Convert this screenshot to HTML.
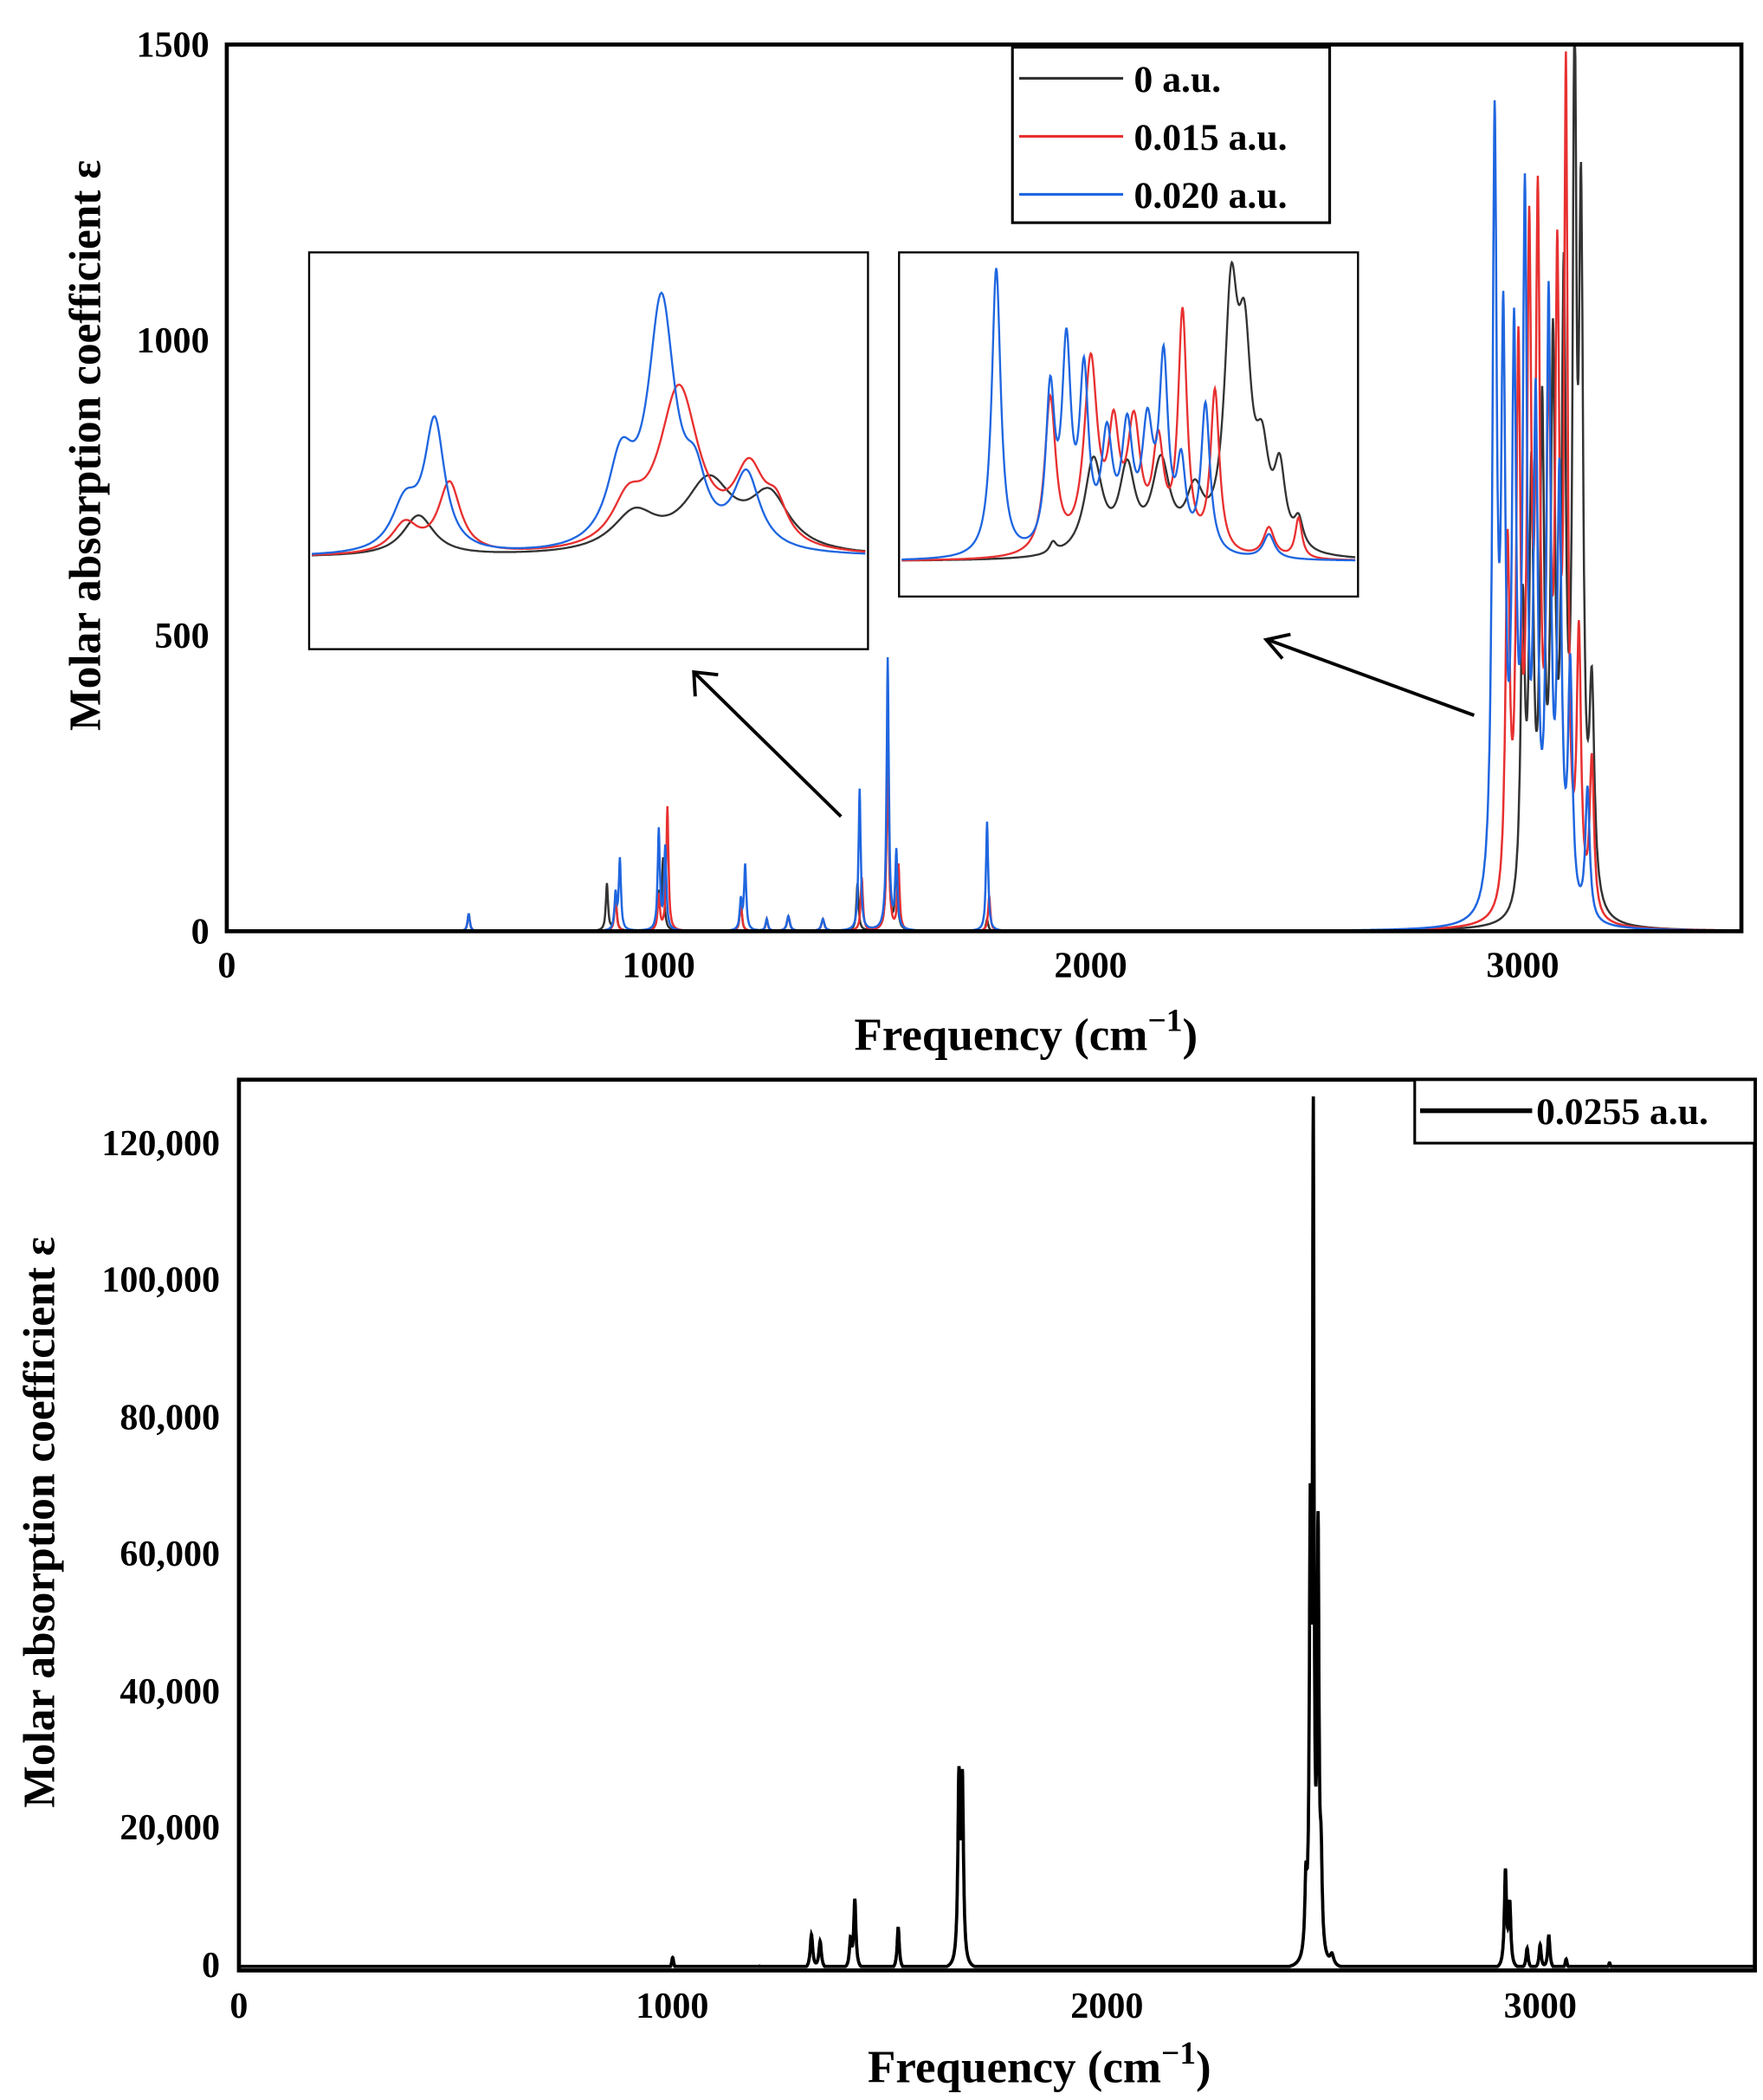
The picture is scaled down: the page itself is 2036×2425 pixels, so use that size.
<!DOCTYPE html>
<html><head><meta charset="utf-8"><style>html,body{margin:0;padding:0;background:#fff}svg{display:block}</style></head>
<body>
<svg id="s" width="2036" height="2425" viewBox="0 0 1306 1556" preserveAspectRatio="none" xmlns="http://www.w3.org/2000/svg" font-family="Liberation Serif, serif" font-weight="bold">
<rect width="1306" height="1556" fill="#fff"/>
<g id="top"></g>
<rect x="168" y="33" width="1122" height="657" fill="none" stroke="#000" stroke-width="3"/>
<g font-size="27" text-anchor="end">
<text x="155" y="42">1500</text><text x="155" y="261">1000</text><text x="155" y="480">500</text><text x="155" y="699">0</text>
</g>
<g font-size="27" text-anchor="middle">
<text x="168" y="724">0</text><text x="488" y="724">1000</text><text x="808" y="724">2000</text><text x="1128" y="724">3000</text>
</g>
<text x="760" y="778" font-size="34" text-anchor="middle">Frequency (cm<tspan dy="-14" font-size="24">−1</tspan><tspan dy="14">)</tspan></text>
<text transform="translate(74,330) rotate(-90)" font-size="33" text-anchor="middle">Molar absorption coefficient ε</text>
<rect x="750" y="35" width="235" height="130" fill="#fff" stroke="#000" stroke-width="2"/>
<line x1="755" y1="58" x2="832" y2="58" stroke="#333" stroke-width="2"/>
<line x1="755" y1="101" x2="832" y2="101" stroke="#e83030" stroke-width="2"/>
<line x1="755" y1="144" x2="832" y2="144" stroke="#1f66e0" stroke-width="2"/>
<g font-size="28"><text x="840" y="68">0 a.u.</text><text x="840" y="111">0.015 a.u.</text><text x="840" y="154">0.020 a.u.</text></g>
<rect x="229" y="187" width="414" height="294" fill="#fff" stroke="#000" stroke-width="1.5"/>
<rect x="666" y="187" width="340" height="255" fill="#fff" stroke="#000" stroke-width="1.5"/>
<g id="ins"></g>
<g stroke="#000" stroke-width="2.5" fill="none">
<line x1="623" y1="605" x2="515" y2="499"/><polyline points="515,516 514,498 532,500"/>
<line x1="1092" y1="530" x2="939" y2="474"/><polyline points="950,488 938,474 956,470"/>
</g>
<g id="bot"></g>
<rect x="177" y="800" width="1123" height="660" fill="none" stroke="#000" stroke-width="3"/>
<g font-size="27" text-anchor="end">
<text x="163" y="856">120,000</text><text x="163" y="957">100,000</text><text x="163" y="1059">80,000</text><text x="163" y="1160">60,000</text><text x="163" y="1262">40,000</text><text x="163" y="1363">20,000</text><text x="163" y="1465">0</text>
</g>
<g font-size="27" text-anchor="middle">
<text x="177" y="1495">0</text><text x="498" y="1495">1000</text><text x="820" y="1495">2000</text><text x="1141" y="1495">3000</text>
</g>
<text x="770" y="1543" font-size="34" text-anchor="middle">Frequency (cm<tspan dy="-14" font-size="24">−1</tspan><tspan dy="14">)</tspan></text>
<text transform="translate(40,1128) rotate(-90)" font-size="33" text-anchor="middle">Molar absorption coefficient ε</text>
<rect x="1048" y="800" width="252" height="47" fill="#fff" stroke="#000" stroke-width="2"/>
<line x1="1052" y1="823" x2="1135" y2="823" stroke="#000" stroke-width="3.5"/>
<text x="1138" y="833" font-size="28">0.0255 a.u.</text>
</svg>
<script>
function L(x,pk){let s=0;for(const p of pk){const d=(x-p[0])/p[2];s+=p[1]/(1+d*d);}return s;}
function path(pk,x0,x1,step,fx,fy){let d="";for(let x=x0;x<=x1;x+=step){d+=(d?"L":"M")+fx(x).toFixed(1)+","+fy(L(x,pk)).toFixed(1);}return d;}
const NS="http://www.w3.org/2000/svg";
function add(g,d,col,w){const p=document.createElementNS(NS,"path");p.setAttribute("d",d);p.setAttribute("fill","none");p.setAttribute("stroke",col);p.setAttribute("stroke-width",w);document.getElementById(g).appendChild(p);}
const fxT=x=>168+x*0.32, fyT=v=>690-Math.min(v,1500)*0.438;
const common=[[560,30,3],[900,60,3],[1000,60,3],[1190,50,3],[1250,20,3],[1300,25,4],[1380,20,4]];
const blk=common.concat([[880,80,3],[1010,120,3],[1460,80,3],[1530,300,3],[1550,120,3],[1760,20,3],[3000,500,6],[3020,700,6],[3045,800,6],[3070,900,6],[3095,1000,6],[3120,1400,5],[3135,1100,6],[3160,350,7]]);
const red=common.concat([[1020,210,3],[1470,90,3],[1530,310,3],[1555,110,3],[1765,60,3],[2965,600,6],[2990,900,6],[3015,1050,6],[3035,1100,6],[3060,800,6],[3080,1000,6],[3100,1350,5],[3130,450,6],[3160,260,6]]);
const blu=common.concat([[910,120,3],[1000,110,3],[1015,140,3],[1200,110,3],[1465,240,3],[1530,460,3],[1550,130,3],[1760,185,3],[2935,1300,6],[2955,900,6],[2980,900,6],[3005,1150,6],[3030,800,6],[3060,1000,6],[3085,700,6],[3110,400,6],[3150,220,6]]);
add("top",path(blk,0,3500,1,fxT,fyT),"#333",1.6);
add("top",path(red,0,3500,1,fxT,fyT),"#e83030",1.6);
add("top",path(blu,0,3500,1,fxT,fyT),"#1f66e0",1.6);
const id=x=>x;
const lb=413;
const liB=[[310,30,14],[470,28,20],[525,52,22],[570,40,18]];
const liR=[[300,22,12],[333,52,10],[465,30,14],[503,120,18],[555,55,14],[575,25,10]];
const liBl=[[300,35,12],[322,95,9],[460,60,12],[490,180,12],[515,40,10],[553,55,12]];
add("ins",path(liB,231,641,1,id,v=>lb-v),"#333",1.5);
add("ins",path(liR,231,641,1,id,v=>lb-v),"#e83030",1.5);
add("ins",path(liBl,231,641,1,id,v=>lb-v),"#1f66e0",1.5);
const rb=416;
const riB=[[780,8,3],[810,70,8],[835,60,7],[860,65,8],[885,40,8],[912,175,6],[922,130,6],[935,60,6],[948,55,5],[962,20,4]];
const riR=[[778,115,5],[808,140,6],[825,80,5],[840,90,6],[858,75,5],[876,175,4],[900,120,4],[940,22,5],[962,30,3]];
const riBl=[[738,214,4],[778,115,4],[790,145,4],[803,125,4],[820,80,5],[835,85,5],[850,85,5],[862,135,4],[875,60,4],[893,110,4],[940,18,5]];
add("ins",path(riB,668,1004,0.5,id,v=>rb-v),"#333",1.5);
add("ins",path(riR,668,1004,0.5,id,v=>rb-v),"#e83030",1.5);
add("ins",path(riBl,668,1004,0.5,id,v=>rb-v),"#1f66e0",1.5);
const fxB=x=>177+x*0.3213, fyB=v=>1457-Math.max(0,v-500)*0.00508;
const bp=[[200,300,2],[500,500,2],[1000,1800,3],[1100,400,2],[1200,500,3],[1320,5000,3.5],[1340,4000,3.5],[1420,10000,3],[1410,4000,3],[1520,6200,3],[1660,26500,3],[1668,26000,3],[2460,10000,3],[2470,60000,2.5],[2477,117000,2],[2488,60000,2.5],[2495,12000,3],[2520,1500,5],[2920,14000,3],[2930,9000,3],[2970,3000,3],[3000,3500,3],[3020,5000,3],[3060,1500,3],[3160,1000,3]];
add("bot",path(bp,0,3500,0.5,fxB,fyB),"#000",2.4);
</script>
</body></html>
